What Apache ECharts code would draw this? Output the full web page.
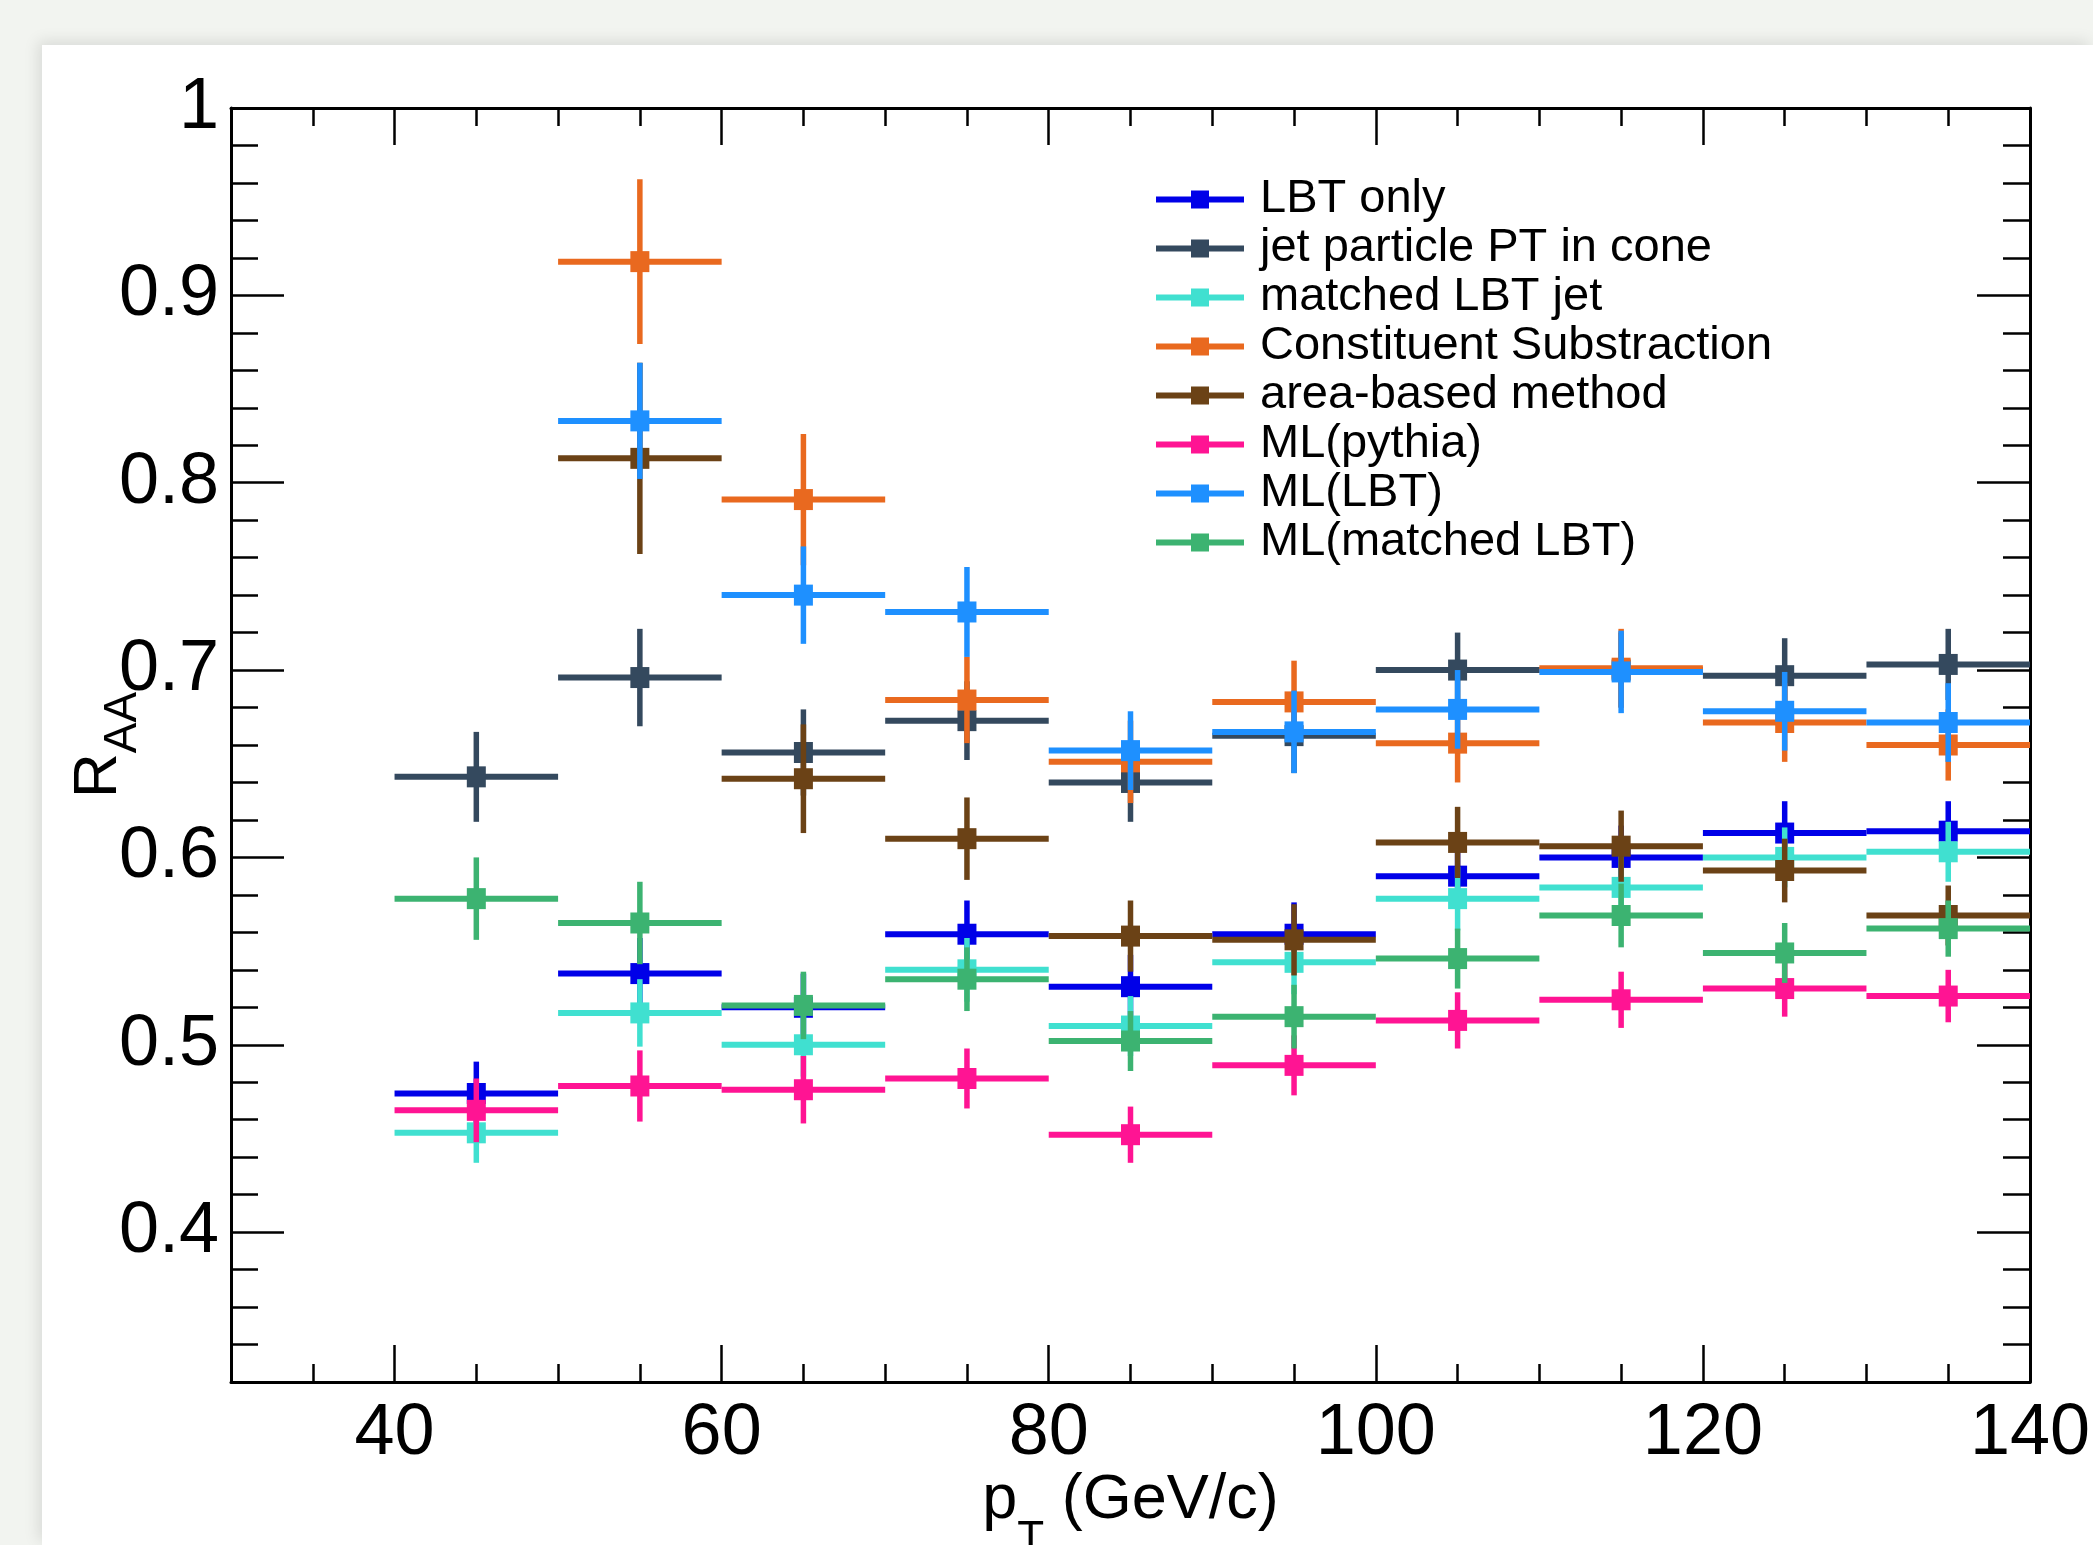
<!DOCTYPE html>
<html>
<head>
<meta charset="utf-8">
<script src="https://cdn.jsdelivr.net/npm/echarts@6/dist/echarts.min.js"></script>
<style>
html,body{margin:0;padding:0;background:#f2f4f0;overflow:hidden}
#paper{position:absolute;left:42px;top:45px;width:2051px;height:1500px;background:#fff;box-shadow:-4px -4px 14px rgba(0,0,0,0.10)}
#c{position:absolute;left:0;top:0;width:2093px;height:1545px}
</style>
</head>
<body>
<div id="paper"></div>
<div id="c"></div>
<script>
// ---- data ----
const binCenters = [45, 55, 65, 75, 85, 95, 105, 115, 125, 135];
const binHalfWidth = [5, 5, 5, 5, 5, 5, 5, 5, 5, 5];

const seriesNames = [
  'LBT only',
  'jet particle PT in cone',
  'matched LBT jet',
  'Constituent Substraction',
  'area-based method',
  'ML(pythia)',
  'ML(LBT)',
  'ML(matched LBT)'
];
const seriesColors = ['#0000e8', '#34495e', '#40e0d0', '#e9691f', '#6b4216', '#ff1493', '#1e90ff', '#3cb371'];

const lbtOnly        = [0.474, 0.538, 0.520, 0.559, 0.531, 0.559, 0.590, 0.600, 0.613, 0.614];
const lbtOnlyErr     = [0.017, 0.019, 0.018, 0.018, 0.017, 0.017, 0.017, 0.017, 0.017, 0.016];
const jetCone        = [0.643, 0.696, 0.656, 0.673, 0.640, 0.665, 0.700, 0.700, 0.697, 0.703];
const jetConeErr     = [0.024, 0.026, 0.023, 0.021, 0.021, 0.020, 0.020, 0.020, 0.020, 0.019];
const matchedLbt     = [0.453, 0.517, 0.500, 0.540, 0.510, 0.544, 0.578, 0.584, 0.600, 0.603];
const matchedLbtErr  = [0.016, 0.018, 0.017, 0.017, 0.016, 0.017, 0.017, 0.017, 0.016, 0.016];
const constSub       = [null, 0.918, 0.791, 0.684, 0.651, 0.683, 0.661, 0.701, 0.672, 0.660];
const constSubErr    = [null, 0.044, 0.035, 0.023, 0.022, 0.022, 0.021, 0.021, 0.021, 0.019];
const areaBased      = [null, 0.813, 0.642, 0.610, 0.558, 0.556, 0.608, 0.606, 0.593, 0.569];
const areaBasedErr   = [null, 0.051, 0.029, 0.022, 0.019, 0.019, 0.019, 0.019, 0.017, 0.016];
const mlPythia       = [0.465, 0.478, 0.476, 0.482, 0.452, 0.489, 0.513, 0.524, 0.530, 0.526];
const mlPythiaErr    = [0.017, 0.019, 0.018, 0.016, 0.015, 0.016, 0.015, 0.015, 0.015, 0.014];
const mlLbt          = [null, 0.833, 0.740, 0.731, 0.657, 0.667, 0.679, 0.699, 0.678, 0.672];
const mlLbtErr       = [null, 0.031, 0.026, 0.024, 0.021, 0.022, 0.021, 0.022, 0.021, 0.021];
const mlMatched      = [0.578, 0.565, 0.521, 0.535, 0.502, 0.515, 0.546, 0.569, 0.549, 0.562];
const mlMatchedErr   = [0.022, 0.022, 0.018, 0.017, 0.016, 0.017, 0.016, 0.017, 0.016, 0.015];

const seriesValues = [lbtOnly, jetCone, matchedLbt, constSub, areaBased, mlPythia, mlLbt, mlMatched];
const seriesErrors = [lbtOnlyErr, jetConeErr, matchedLbtErr, constSubErr, areaBasedErr, mlPythiaErr, mlLbtErr, mlMatchedErr];

// ---- chart ----
const FONT = '"Liberation Sans", Arial, Helvetica, sans-serif';
const chart = echarts.init(document.getElementById('c'), null, {renderer: 'canvas'});

function renderItem(params, api) {
  const x = api.value(0), y = api.value(1), ex = api.value(2), ey = api.value(3);
  const c = api.coord([x, y]);
  const pL = api.coord([x - ex, y]);
  const pR = api.coord([x + ex, y]);
  const pT = api.coord([x, y + ey]);
  const pB = api.coord([x, y - ey]);
  const color = api.visual('color');
  return {
    type: 'group',
    children: [
      {type: 'line', shape: {x1: pL[0], y1: c[1], x2: pR[0], y2: c[1]}, style: {stroke: color, lineWidth: 6, lineCap: 'butt'}},
      {type: 'line', shape: {x1: c[0], y1: pT[1], x2: c[0], y2: pB[1]}, style: {stroke: color, lineWidth: 5.5, lineCap: 'butt'}},
      {type: 'rect', shape: {x: c[0] - 9.5, y: c[1] - 10.5, width: 19, height: 21}, style: {fill: color}}
    ]
  };
}

const series = seriesNames.map((name, si) => {
  const data = [];
  binCenters.forEach((xc, i) => {
    const v = seriesValues[si][i];
    if (v !== null && v !== undefined) data.push([xc, v, binHalfWidth[i], seriesErrors[si][i]]);
  });
  return {
    name: name,
    type: 'custom',
    renderItem: renderItem,
    itemStyle: {color: seriesColors[si]},
    clip: true,
    encode: {x: 0, y: 1},
    data: data,
    z: 2 + si * 0.01
  };
});

const tickLine = {color: '#000', width: 2.5};
const axisLineStyle = {show: true, onZero: false, lineStyle: {color: '#000', width: 3}};

const option = {
  backgroundColor: 'transparent',
  animation: false,
  textStyle: {fontFamily: FONT},
  grid: {left: 231, top: 108, right: 63, bottom: 163, containLabel: false, outerBoundsMode: 'none'},
  legend: {
    orient: 'vertical',
    left: 1151,
    top: 170,
    itemWidth: 88,
    itemHeight: 18,
    itemGap: 0,
    selectedMode: false,
    icon: 'path://M0,6H88V12H0Z M35,0H53V18H35Z',
    textStyle: {fontFamily: FONT, fontSize: 47, lineHeight: 49, color: '#000', padding: [0, 0, 0, 11]},
    data: seriesNames.map((n, i) => ({name: n, itemStyle: {color: seriesColors[i]}}))
  },
  xAxis: [
    {
      type: 'value', min: 30, max: 140, splitNumber: 5, position: 'bottom',
      axisLine: axisLineStyle,
      axisTick: {show: true, inside: true, length: 37, lineStyle: tickLine},
      minorTick: {show: true, splitNumber: 4, length: 18, lineStyle: tickLine},
      splitLine: {show: false}, minorSplitLine: {show: false},
      axisLabel: {showMinLabel: false, fontSize: 72, color: '#000', margin: 16, fontFamily: FONT},
      name: '{a|p}{s|T}{a| (GeV/c)}',
      nameLocation: 'middle',
      nameGap: 87,
      nameMoveOverlap: false,
      nameTextStyle: {
        fontFamily: FONT, color: '#000',
        rich: {
          a: {fontSize: 63, lineHeight: 63, verticalAlign: 'top', fontFamily: FONT, color: '#000'},
          s: {fontSize: 44, lineHeight: 93, verticalAlign: 'bottom', fontFamily: FONT, color: '#000'}
        }
      }
    },
    {
      type: 'value', min: 30, max: 140, splitNumber: 5, position: 'top',
      axisLine: axisLineStyle,
      axisTick: {show: true, inside: true, length: 37, lineStyle: tickLine},
      minorTick: {show: true, splitNumber: 4, length: 18, lineStyle: tickLine},
      splitLine: {show: false},
      axisLabel: {show: false}
    }
  ],
  yAxis: [
    {
      type: 'value', min: 0.32, max: 1, splitNumber: 7, position: 'left',
      axisLine: axisLineStyle,
      axisTick: {show: true, inside: true, length: 53, lineStyle: tickLine},
      minorTick: {show: true, splitNumber: 5, length: 27, lineStyle: tickLine},
      splitLine: {show: false}, minorSplitLine: {show: false},
      axisLabel: {showMinLabel: false, fontSize: 72, color: '#000', margin: 12, fontFamily: FONT},
      name: '{r|R}{s|AA}',
      nameLocation: 'middle',
      nameRotate: 90,
      nameGap: 85,
      nameMoveOverlap: false,
      nameTextStyle: {
        fontFamily: FONT, color: '#000',
        rich: {
          r: {fontSize: 62, lineHeight: 62, verticalAlign: 'top', fontFamily: FONT, color: '#000'},
          s: {fontSize: 46, lineHeight: 78, verticalAlign: 'bottom', fontFamily: FONT, color: '#000'}
        }
      }
    },
    {
      type: 'value', min: 0.32, max: 1, splitNumber: 7, position: 'right',
      axisLine: axisLineStyle,
      axisTick: {show: true, inside: true, length: 53, lineStyle: tickLine},
      minorTick: {show: true, splitNumber: 5, length: 27, lineStyle: tickLine},
      splitLine: {show: false},
      axisLabel: {show: false}
    }
  ],
  series: series
};

chart.setOption(option);
</script>
</body>
</html>
